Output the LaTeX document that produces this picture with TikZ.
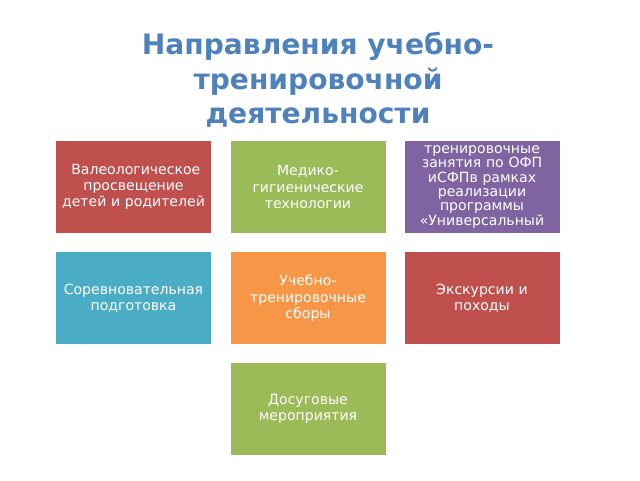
\documentclass[tikz,border=0pt]{standalone}
\usepackage{fontspec}
\setmainfont{DejaVu Sans}
\usetikzlibrary{positioning}

\tikzset{
  tile/.style={draw=white, line width=0.6pt, minimum width=3.9cm, minimum height=2.325cm,
    text=white, text width=3.6cm, align=center, font=\fontsize{10}{11.6}\selectfont, inner sep=0pt},
}

\begin{document}
\begin{tikzpicture}
\definecolor{title_color}{RGB}{79,129,189}
\definecolor{red_color}{RGB}{192,80,77}
\definecolor{green_color}{RGB}{155,187,89}
\definecolor{purple_color}{RGB}{128,100,162}
\definecolor{blue_color}{RGB}{75,172,198}
\definecolor{orange_color}{RGB}{247,150,70}

\useasboundingbox (0,0) rectangle (16,12);

\node[text=title_color, align=center, font=\fontsize{20}{24.5}\selectfont\bfseries] (title) at (7.95,10.0) {Направления учебно-\\тренировочной\\деятельности};

% first row
\node[tile, fill=red_color] (valeo) at (3.3375,7.325) {\ Валеологическое просвещение детей и родителей};
\node[tile, fill=green_color] (medic) at (7.7,7.325) {Медико-\\гигиенические технологии};
\node[tile, fill=purple_color, font=\fontsize{10}{10.2}\selectfont] (ofp) at (12.05,7.325) {тренировочные занятия по ОФП иСФПв рамках реализации программы «Универсальный};

% second row
\node[tile, fill=blue_color] (sorev) at (3.3375,4.55) {Соревновательная подготовка};
\node[tile, fill=orange_color] (sbory) at (7.7,4.55) {Учебно-\\тренировочные сборы};
\node[tile, fill=red_color] (excur) at (12.05,4.55) {Экскурсии и\\походы};

% third row
\node[tile, fill=green_color] (dosug) at (7.7,1.7875) {Досуговые мероприятия};

\end{tikzpicture}
\end{document}
